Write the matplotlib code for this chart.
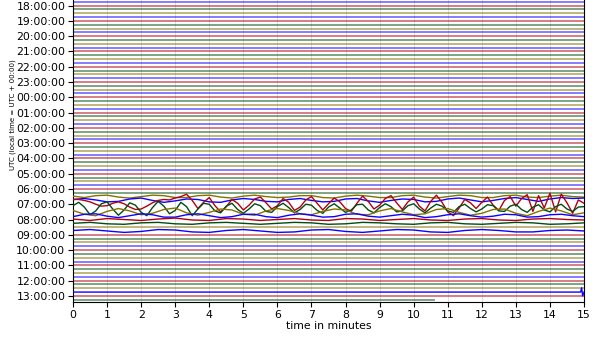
import numpy as np
import matplotlib
matplotlib.use("Agg")
import matplotlib.pyplot as plt

# dayplot: one line per 15 minutes, 13:00 (day 1) to 13:25 (day 2)
# line index 0 = 18:00, negative indices lie above the visible crop
first_line = -20
last_line = 77            # 13:15, ends early
last_line_end = 10.6      # minutes
colors = ['#B2000F', '#004C12', '#847200', '#0E01FF']   # :00, :15, :30, :45

hour_labels = ['18:00:00', '19:00:00', '20:00:00', '21:00:00', '22:00:00',
               '23:00:00', '00:00:00', '01:00:00', '02:00:00', '03:00:00',
               '04:00:00', '05:00:00', '06:00:00', '07:00:00', '08:00:00',
               '09:00:00', '10:00:00', '11:00:00', '12:00:00', '13:00:00']

# active traces, offsets in line-spacing units (positive = up)
# 10 s sampling
red_0700 = [1.0, 1.0, 0.8, 0.5, 0.0, -0.4,
            -0.3, 0.2, 0.5, 0.1, -0.6, -1.1,
            -1.0, -0.4, 0.3, 0.8, 1.0, 0.9,
            1.3, 1.6, 2.1, 0.8, -0.9, 0.4,
            1.4, -0.3, -1.6, -0.5, 1.0, 0.2,
            -1.2, -0.2, 1.1, 1.5, 0.3, -1.0,
            -0.3, 1.2, 0.4, -1.3, -0.6, 0.9,
            1.6, 0.2, -1.2, 0.1, 1.3, 0.5,
            -0.9, -1.5, 0.2, 1.7, 0.6, -1.0,
            -0.2, 1.2, 1.8, 0.3, -1.1, 0.5,
            1.5, -0.4, -1.4, 0.6, 1.9, 0.4,
            -1.6, -2.4, -0.8, 1.0, 0.3, -0.9,
            0.4, 1.5, -0.2, -1.3, 0.8, 1.6,
            -0.4, 1.2, 2.0, -1.5, 1.8, -0.8,
            2.3, -1.6, 2.1, 0.3, -1.9, 0.9,
            0.2]
green_0715 = [0.5, 1.2, 0.2, -1.4, -0.6, 0.9,
              1.3, -0.2, -1.5, -0.4, 1.1, 0.6,
              -0.9, -1.6, 0.1, 1.4, 0.4, -1.2,
              -0.5, 1.2, 0.3, -1.6, -0.2, 1.0,
              0.8, -0.6, -1.0, 0.4, 1.0, -0.3,
              -1.1, -0.2, 0.9, 0.5, -0.7, -0.9,
              0.3, 1.0, 0.1, -1.0, -0.3, 0.8,
              0.6, -0.5, -1.1, 0.2, 0.9, 0.0,
              -0.9, -0.4, 0.7, 0.8, -0.4, -1.0,
              0.1, 0.9, 0.3, -0.8, -0.6, 0.5,
              0.9, -0.2, -1.0, 0.0, 0.8, 0.4,
              -0.6, -0.9, 0.3, 0.8, -0.1, -0.8,
              -0.2, 0.7, 0.5, -0.6, -0.7, 0.4,
              0.8, -0.3, -0.9, 0.2, 0.7, -0.4,
              -0.8, 0.3, 0.8, -0.2, -0.7, 0.2,
              0.3]
# 20 s sampling
olive_0730 = [0.3, -0.5, -0.8, 0.1, 0.7, 0.2, -0.6, -0.3, 0.5, 0.8, -0.2, -0.7,
              -0.1, 0.6, 0.4, -0.5, -0.7, 0.2, 0.7, 0.3, -0.4, -0.6, 0.1, 0.6,
              0.4, -0.5, -0.6, 0.2, 0.7, 0.0, -0.6, -0.4, 0.5, 0.7, -0.1, -0.7,
              -0.3, 0.5, 0.6, -0.3, -0.8, 0.1, 0.8, 0.2, -0.6, -0.2]
blue_0645 = [0.2, 0.4, 0.1, -0.3, -0.2, 0.3, 0.5, 0.0, -0.4, -0.1, 0.3, 0.2,
             -0.3, -0.4, 0.1, 0.4, 0.2, -0.2, -0.3, 0.2, 0.4, 0.0, -0.3, -0.2,
             0.3, 0.4, -0.1, -0.4, 0.0, 0.3, 0.2, -0.3, -0.2, 0.3, 0.5, 0.1,
             -0.3, 0.0, 0.4, 0.6, 0.2, -0.2, 0.3, 0.6, 0.4, 0.5]
blue_0745 = [-0.2, 0.3, 0.4, -0.1, -0.4, 0.0, 0.4, 0.2, -0.3, -0.3, 0.2, 0.4,
             0.0, -0.4, -0.2, 0.3, 0.3, -0.2, -0.4, 0.1, 0.4, 0.1, -0.3, -0.2,
             0.3, 0.4, -0.1, -0.3, 0.0, 0.3, 0.1, -0.4, -0.2, 0.2, 0.4, 0.0,
             -0.3, -0.1, 0.3, 0.2, -0.3, -0.2, 0.2, 0.3, 0.0, -0.2]
olive_0630 = [0.1, -0.2, 0.2, 0.3, -0.1, -0.3, 0.0, 0.3, 0.2, -0.2, -0.2, 0.2,
              0.3, -0.1, -0.3, 0.1, 0.3, 0.0, -0.2, -0.1, 0.2, 0.2, -0.2, -0.3,
              0.1, 0.3, 0.1, -0.2, -0.2, 0.2, 0.3, -0.1, -0.3, 0.0, 0.3, 0.2,
              -0.2, -0.2, 0.2, 0.3, -0.1, -0.2, 0.1, 0.3, 0.0, -0.1]
# 30 s sampling
red_0800 = [0.1, -0.2, 0.2, 0.0, -0.2, 0.1, 0.3, -0.1, -0.2, 0.2, 0.1, -0.2,
            0.0, 0.2, -0.1, -0.2, 0.2, 0.1, -0.2, 0.0, 0.2, -0.1, -0.2, 0.1,
            0.2, -0.1, -0.2, 0.1, 0.2, 0.0, -0.1]
green_0815 = [0.0, 0.2, -0.1, -0.2, 0.1, 0.2, -0.1, -0.2, 0.1, 0.2, 0.0, -0.2,
              0.0, 0.2, 0.1, -0.2, -0.1, 0.2, 0.1, -0.1, -0.2, 0.1, 0.2, -0.1,
              -0.2, 0.0, 0.2, 0.1, -0.2, -0.1, 0.1]
blue_0845 = [0.1, 0.3, 0.0, -0.3, -0.1, 0.3, 0.2, -0.2, -0.3, 0.1, 0.3, 0.0,
             -0.3, -0.2, 0.2, 0.3, -0.1, -0.3, 0.0, 0.3, 0.2, -0.2, -0.3, 0.1,
             0.3, 0.1, -0.2, -0.2, 0.1, 0.2, 0.0]
# end-of-line marker on 12:45
blue_1245_t = [0.0, 14.90, 14.93, 14.96, 15.0]
blue_1245 = [0.0, 0.0, 0.9, -0.8, 0.0]

active = {
    50: olive_0630, 51: blue_0645, 52: red_0700, 53: green_0715,
    54: olive_0730, 55: blue_0745, 56: red_0800, 57: green_0815,
    59: blue_0845,
}
scale = 1.25   # trace amplitude relative to line spacing

fig = plt.figure(figsize=(6.14, 3.45), dpi=100)
# axes top extends above the canvas (the original is cropped)
ax = fig.add_axes([73 / 614, 1 - 302 / 345, 511 / 614, 375 / 345])

for j in range(first_line, last_line + 1):
    c = colors[j % 4]
    if j in active:
        vals = np.array(active[j]) * scale
        t = np.linspace(0, 15, len(vals))
        ax.plot(t, j - vals, color=c, lw=1.0, zorder=3)
    elif j == 75:
        ax.plot(blue_1245_t, j - np.array(blue_1245) * scale, color=c, lw=1.0, zorder=3)
    else:
        end = last_line_end if j == last_line else 15
        ax.plot([0, end], [j, j], color=c, lw=1.3, alpha=0.55, zorder=2)

ax.set_xlim(0, 15)
ax.set_ylim(77.6, -20.6)
ax.set_xticks(range(16))
ax.set_yticks(range(0, last_line + 1, 4))
ax.set_yticklabels(hour_labels)
ax.tick_params(labelsize=7.8, pad=2)
ax.xaxis.grid(True, color='0.85', lw=0.6, zorder=0)
ax.set_axisbelow(True)
ax.set_xlabel('time in minutes', fontsize=7.8, labelpad=1)
ax.set_ylabel('UTC (local time = UTC + 00:00)', fontsize=5)
ax.yaxis.set_label_coords(-0.112, 0.5)

fig.savefig('out.png', dpi=100)
